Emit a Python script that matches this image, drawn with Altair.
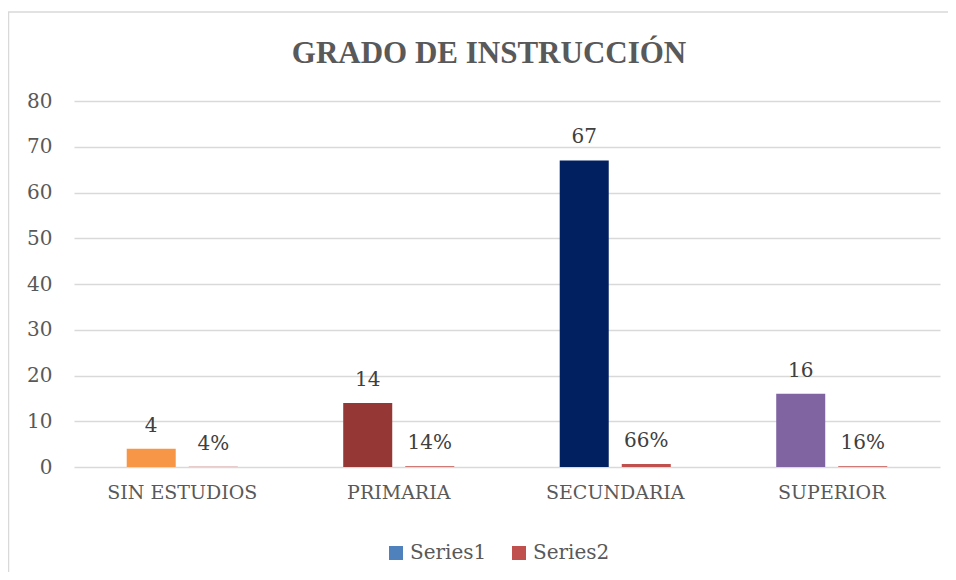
import altair as alt
import pandas as pd

categories = ["SIN ESTUDIOS", "PRIMARIA", "SECUNDARIA", "SUPERIOR"]
series1_values = [4, 14, 67, 16]
series2_values = [0.04, 0.14, 0.66, 0.16]
series1_labels = ["4", "14", "67", "16"]
series2_labels = ["4%", "14%", "66%", "16%"]
series1_colors = ["#F79646", "#953735", "#002060", "#8064A2"]
legend_names = ["Series1", "Series2"]
legend_colors = ["#4F81BD", "#C0504D"]

rows = []
for c, v, l in zip(categories, series1_values, series1_labels):
    rows.append({"cat": c, "series": "Series1", "value": v, "label": l, "key": c})
for c, v, l in zip(categories, series2_values, series2_labels):
    rows.append({"cat": c, "series": "Series2", "value": v, "label": l, "key": "Series2"})
df = pd.DataFrame(rows)

FONT = "DejaVu Serif"
GRAY = "#595959"

x_enc = alt.X("cat:N", sort=categories, title=None,
              scale=alt.Scale(paddingInner=0.487, paddingOuter=0.2435),
              axis=alt.Axis(labelAngle=0, ticks=False, domain=False, labelPadding=16,
                            labelFont=FONT, labelFontSize=19, labelColor=GRAY,
                            labelBaseline="top"))
xoff = alt.XOffset("series:N", sort=legend_names,
                   scale=alt.Scale(paddingInner=0.21, paddingOuter=0))
y_enc = alt.Y("value:Q", title=None,
              scale=alt.Scale(domain=[0, 80]),
              axis=alt.Axis(values=list(range(0, 81, 10)), ticks=False, domain=False,
                            labelPadding=22, labelFont=FONT, labelFontSize=20,
                            labelColor=GRAY, gridColor="#D9D9D9", gridWidth=1.3))

domain_keys = legend_names + categories
range_cols = legend_colors + series1_colors

bars = alt.Chart(df).mark_bar().encode(
    x=x_enc,
    xOffset=xoff,
    y=y_enc,
    color=alt.Color("key:N",
                    scale=alt.Scale(domain=domain_keys, range=range_cols),
                    legend=alt.Legend(values=legend_names, title=None, orient="none",
                                      direction="horizontal", legendX=312, legendY=442,
                                      symbolType="square", symbolSize=196,
                                      labelFont=FONT, labelFontSize=20, labelColor=GRAY,
                                      labelOffset=4, columnPadding=22)),
)

labels = alt.Chart(df).mark_text(font=FONT, fontSize=20, color="#404040",
                                 baseline="alphabetic", dy=-17).encode(
    x=alt.X("cat:N", sort=categories),
    xOffset=alt.XOffset("series:N", sort=legend_names),
    y=alt.Y("value:Q"),
    text="label:N",
)

border = alt.Chart(pd.DataFrame({"k": [0]})).mark_rect(
    fill=None, stroke="#D9D9D9", strokeWidth=1.5).encode(
    x=alt.value(-65.5), x2=alt.value(900), y=alt.value(-89), y2=alt.value(520))

chart = alt.layer(border, bars, labels).properties(
    width=866, height=366,
    autosize=alt.AutoSizeParams(type="none"),
    padding={"left": 66, "top": 93, "right": 8, "bottom": 105},
    title=alt.TitleParams("GRADO DE INSTRUCCIÓN", font="Liberation Serif", fontSize=31,
                          fontWeight="bold", color=GRAY, anchor="middle", dx=-18,
                          baseline="alphabetic", offset=-83),
).configure_view(stroke=None)

chart.save("out.html", embed_options={"renderer": "svg", "actions": False})
